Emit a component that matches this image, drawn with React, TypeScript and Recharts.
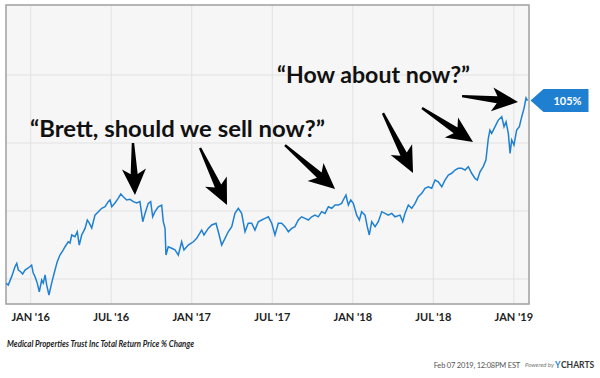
import React from 'react';
import {
  LineChart,
  Line,
  XAxis,
  YAxis,
  CartesianGrid,
  ReferenceLine,
  ReferenceDot,
  ReferenceArea,
} from 'recharts';

// months since Jan 2016 (fractional)
const months = [
  -1.84, -1.67, -1.42, -1.17, -1.04, -0.92, -0.75, -0.6, -0.42, -0.18, 0.07, 0.19, 0.32, 0.49, 0.64, 0.82, 0.94,
  1.07, 1.19, 1.36, 1.56, 1.81, 1.98, 2.18, 2.43, 2.56, 2.8, 2.93, 3.06, 3.3, 3.47, 3.62, 3.8, 4.05, 4.22, 4.37,
  4.55, 4.79, 5.04, 5.29, 5.54, 5.78, 5.91, 6.04, 6.28, 6.53, 6.71, 6.9, 7.15, 7.4, 7.65, 7.9, 8.14, 8.35, 8.52,
  8.76, 8.94, 9.09, 9.26, 9.51, 9.76, 9.88, 10.01, 10.08, 10.25, 10.51, 10.75, 11.0, 11.25, 11.42, 11.74, 12.12,
  12.37, 12.74, 12.91, 13.23, 13.49, 13.81, 13.98, 14.23, 14.48, 14.72, 14.98, 15.22, 15.47, 15.72, 15.97, 16.21,
  16.47, 16.71, 16.96, 17.21, 17.46, 17.71, 17.96, 18.2, 18.45, 18.7, 18.95, 19.2, 19.45, 19.69, 19.94, 20.19,
  20.44, 20.69, 20.94, 21.18, 21.43, 21.68, 21.93, 22.18, 22.43, 22.68, 22.92, 23.17, 23.29, 23.49, 23.67, 23.85,
  24.04, 24.29, 24.49, 24.66, 24.91, 25.08, 25.23, 25.41, 25.66, 25.9, 26.16, 26.4, 26.65, 26.9, 27.15, 27.52,
  27.72, 27.89, 28.14, 28.39, 28.64, 28.88, 29.14, 29.38, 29.63, 29.88, 30.13, 30.37, 30.63, 30.87, 31.12, 31.37,
  31.62, 31.86, 32.12, 32.36, 32.61, 32.86, 33.11, 33.28, 33.48, 33.72, 33.92, 34.1, 34.22, 34.35, 34.6, 34.84,
  35.1, 35.27, 35.42, 35.59, 35.72, 35.84, 36.01, 36.21, 36.41, 36.59, 36.76, 36.91, 37.02,
];

// total return price % change
const returns = [
  -2.5, -3.5, 1.4, 7.2, 9.2, 5.3, 4.3, 2.9, 5.3, 6.5, 8.2, 3.5, 1.4, -2.4, -7.5, -0.6, -2.4,
  2.4, -3.5, -9.4, -2.4, 5.3, 10.2, 14.1, 17.1, 19.0, 21.9, 21.2, 25.9, 24.9, 27.8, 20.0, 25.9, 29.8, 34.7, 32.9,
  30.0, 37.6, 39.6, 41.6, 42.5, 45.5, 46.5, 42.5, 44.7, 47.6, 50.0, 48.4, 46.5, 46.9, 45.5, 44.7, 45.5, 33.7, 38.6,
  44.5, 45.5, 36.6, 39.6, 42.5, 43.5, 33.7, 29.8, 14.1, 19.0, 18.1, 17.1, 14.1, 21.9, 17.1, 20.0, 21.9,
  23.9, 28.8, 25.9, 29.8, 31.8, 32.8, 27.8, 20.0, 23.9, 27.8, 30.8, 38.6, 41.6, 38.6, 27.8, 32.8,
  32.8, 28.8, 33.7, 34.7, 35.7, 36.6, 32.8, 25.9, 32.8, 32.8, 30.8, 27.8, 29.8, 30.8, 34.7, 36.6,
  35.7, 34.7, 36.6, 37.6, 36.6, 39.6, 38.6, 42.5, 41.6, 43.5, 43.5, 44.5, 46.5, 49.4, 43.5, 46.5,
  44.5, 37.6, 34.7, 39.6, 37.6, 30.8, 25.9, 33.7, 30.8, 33.7, 39.6, 38.6, 37.6, 38.6, 36.6, 37.6,
  33.7, 38.6, 43.5, 41.6, 44.5, 48.4, 50.4, 53.4, 54.3, 53.4, 58.2, 57.2, 54.3, 58.2, 61.2, 62.2,
  64.1, 65.1, 65.1, 64.1, 66.1, 62.2, 59.2, 58.2, 63.1, 66.1, 70.0, 82.8, 87.6, 85.7, 89.6, 93.5,
  95.5, 89.6, 92.5, 85.7, 73.9, 81.8, 78.8, 87.6, 89.6, 95.5, 100.4, 106.5, 105.0,
];

const tickMonths = [0, 6, 12, 18, 24, 30, 36];
const tickLabels = ["JAN '16", "JUL '16", "JAN '17", "JUL '17", "JAN '18", "JUL '18", "JAN '19"];
const gridValues = [0, 40, 80, 120];

// arrows: [tail month, tail %, tip month, tip %]
const arrows = [
  [7.62, 80.0, 7.77, 49.4],
  [12.62, 77.1, 14.63, 43.5],
  [18.95, 78.8, 22.68, 52.9],
  [26.25, 97.6, 28.49, 62.4],
  [29.16, 100.6, 32.96, 80.6],
  [32.14, 107.6, 36.31, 104.1],
];

const data = months.map((m, i) => ({ m, v: returns[i] }));
const last = data[data.length - 1];

const BLUE = '#1f80d2';

function ArrowShape(props: any) {
  const { x1, y1, x2, y2 } = props;
  if (![x1, y1, x2, y2].every(Number.isFinite)) return null;
  const dx = x2 - x1;
  const dy = y2 - y1;
  const len = Math.hypot(dx, dy) || 1;
  const ux = dx / len;
  const uy = dy / len;
  const nx = -uy;
  const ny = ux;
  const h = 21;
  const w = 12;
  const pt = (bx: number, by: number, along: number, side: number) =>
    `${bx + ux * along + nx * side},${by + uy * along + ny * side}`;
  const pts = [
    pt(x1, y1, 0, 1.2),
    pt(x2, y2, -h, 3.5),
    pt(x2, y2, -h - 5, w),
    pt(x2, y2, 0, 0),
    pt(x2, y2, -h - 5, -w),
    pt(x2, y2, -h, -3.5),
    pt(x1, y1, 0, -1.2),
  ];
  return <polygon points={pts.join(' ')} fill="#000" />;
}

function EndTag(props: any) {
  const { cx, cy } = props;
  if (!Number.isFinite(cx) || !Number.isFinite(cy)) return null;
  const x = cx + 3;
  const pts = [
    `${x},${cy}`,
    `${x + 13},${cy - 11.5}`,
    `${x + 58},${cy - 11.5}`,
    `${x + 58},${cy + 11.5}`,
    `${x + 13},${cy + 11.5}`,
  ];
  return (
    <g>
      <polygon points={pts.join(' ')} fill={BLUE} />
      <text
        x={x + 37}
        y={cy + 4}
        textAnchor="middle"
        fill="#fff"
        fontSize={11}
        fontWeight={700}
        fontFamily="Lato, sans-serif"
      >
        105%
      </text>
    </g>
  );
}

export default function App() {
  return (
    <div
      style={{
        position: 'absolute',
        left: 0,
        top: 0,
        width: 600,
        height: 378,
        background: '#fff',
        fontFamily: 'Lato, sans-serif',
      }}
    >
      <LineChart
        width={600}
        height={378}
        data={data}
        margin={{ top: 5, right: 71, bottom: 44, left: 6 }}
      >
        <CartesianGrid fill="#f6f6f6" stroke="#e2e2e2" strokeWidth={1} />
        <XAxis
          dataKey="m"
          type="number"
          domain={[-1.84, 37.13]}
          ticks={tickMonths}
          allowDataOverflow
          height={30}
          tickSize={0}
          tickMargin={9}
          axisLine={false}
          tick={{ fontSize: 11, fontWeight: 700, fill: '#222', fontFamily: 'Lato, sans-serif' }}
          tickFormatter={(v) => tickLabels[tickMonths.indexOf(Number(v))] ?? ''}
        />
        <YAxis hide type="number" domain={[-14.7, 161.2]} ticks={gridValues} allowDataOverflow />
        <ReferenceArea
          x1={-1.84}
          x2={37.13}
          y1={-14.7}
          y2={161.2}
          fill="none"
          stroke="#a3a3a3"
          strokeWidth={1.5}
          ifOverflow="visible"
        />
        <Line
          type="linear"
          dataKey="v"
          stroke={BLUE}
          strokeWidth={1.5}
          dot={false}
          isAnimationActive={false}
        />
        {arrows.map((a, i) => (
          <ReferenceLine
            key={i}
            segment={[
              { x: a[0], y: a[1] },
              { x: a[2], y: a[3] },
            ]}
            ifOverflow="visible"
            shape={ArrowShape}
          />
        ))}
        <ReferenceDot x={last.m} y={last.v} r={0} ifOverflow="visible" shape={EndTag} />
      </LineChart>
      <svg
        width={600}
        height={378}
        style={{ position: 'absolute', left: 0, top: 0, pointerEvents: 'none' }}
      >
        <text x={30} y={137} fontSize={22} fontWeight={700} fill="#111" textLength={295} lengthAdjust="spacingAndGlyphs">
          “Brett, should we sell now?”
        </text>
        <text x={277} y={83} fontSize={22} fontWeight={700} fill="#111" textLength={193} lengthAdjust="spacingAndGlyphs">
          “How about now?”
        </text>
        <text x={7} y={347} fontSize={10} fontStyle="italic" fontWeight={700} fill="#222" textLength={187} lengthAdjust="spacingAndGlyphs">
          Medical Properties Trust Inc Total Return Price % Change
        </text>
        <text x={520} y={368} textAnchor="end" fontSize={7.5} letterSpacing={-0.2} fill="#555">
          Feb 07 2019, 12:08PM EST
        </text>
        <text x={525} y={367} fontSize={6} fontStyle="italic" fill="#777">
          Powered by
        </text>
        <text x={555} y={368} fontSize={8.5} fontWeight={700} fill={BLUE}>
          Y
        </text>
        <text x={561} y={368} fontSize={8.5} fontWeight={700} fill="#333">
          CHARTS
        </text>
      </svg>
    </div>
  );
}
